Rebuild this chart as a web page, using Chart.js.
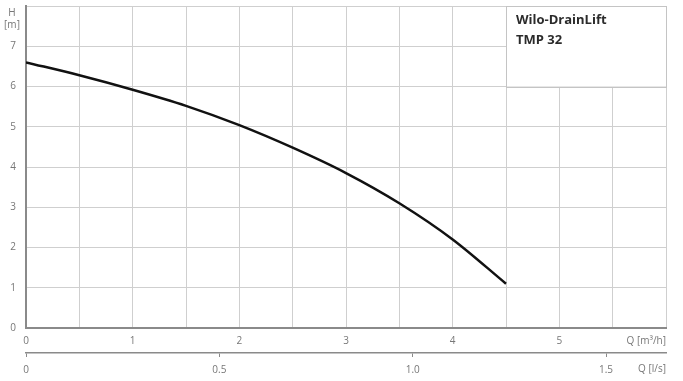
<!DOCTYPE html>
<html><head><meta charset="utf-8">
<script src="https://cdn.jsdelivr.net/npm/chart.js@4/dist/chart.umd.min.js"></script>
<style>html,body{margin:0;padding:0;background:#fff}#w{width:683px;height:381px}</style>
</head><body><div id="w"><canvas id="c"></canvas></div>
<script>
// Data
const flowM3h = [0, 0.5, 1, 1.5, 2, 2.5, 3, 3.5, 4, 4.5];
const headM   = [6.6, 6.28, 5.92, 5.52, 5.04, 4.48, 3.85, 3.1, 2.2, 1.1];
const xTickLabels = ['0','1','2','3','4','5'];
const lsTickValues = [0, 0.5, 1.0, 1.5];
const lsTickLabels = ['0','0.5','1.0','1.5'];
const yTickLabels = ['0','1','2','3','4','5','6','7'];
const title1 = 'Wilo-DrainLift';
const title2 = 'TMP 32';
const xUnit = 'Q [m³/h]';
const lsUnit = 'Q [l/s]';
const yUnit1 = 'H';
const yUnit2 = '[m]';

const FONT = '"Open Sans", sans-serif';
const TC = '#777';

const overlay = {
  id: 'overlay',
  beforeDatasetsDraw(chart) {
    const {ctx, scales: {x, y}} = chart;
    const l = x.getPixelForValue(4.5), r = x.getPixelForValue(6);
    const t = y.getPixelForValue(8), b = y.getPixelForValue(6);
    ctx.save();
    ctx.fillStyle = '#fff';
    ctx.fillRect(l, t, r - l, b - t);
    ctx.strokeStyle = '#c4c4c4';
    ctx.lineWidth = 1;
    ctx.strokeRect(Math.round(l) + 0.5, Math.round(t) + 0.5, Math.round(r - l), Math.round(b - t));
    ctx.fillStyle = '#2b2b2b';
    ctx.font = '700 13px ' + FONT;
    ctx.textBaseline = 'middle';
    ctx.textAlign = 'left';
    ctx.fillText(title1, l + 10, t + 14);
    ctx.fillText(title2, l + 10, t + 34);
    ctx.restore();
  },
  afterDraw(chart) {
    const {ctx, scales: {x}} = chart;
    ctx.save();
    ctx.fillStyle = TC;
    ctx.font = '10px ' + FONT;
    ctx.textBaseline = 'middle';
    ctx.textAlign = 'center';
    ctx.fillText(yUnit1, 12, 13);
    ctx.fillText(yUnit2, 12, 25);
    ctx.textAlign = 'right';
    ctx.fillText(xUnit, x.right, 341);
    ctx.fillText(lsUnit, x.right, 369);
    ctx.restore();
  }
};

function noPad(s) { s.paddingTop = 0; s.paddingBottom = 0; s.paddingLeft = 0; s.paddingRight = 0; }

new Chart(document.getElementById('c'), {
  type: 'line',
  data: {
    datasets: [{
      data: flowM3h.map((q, i) => ({x: q, y: headM[i]})),
      borderColor: '#111',
      borderWidth: 2.5,
      pointRadius: 0,
      cubicInterpolationMode: 'monotone',
      fill: false
    }]
  },
  options: {
    responsive: true,
    maintainAspectRatio: false,
    animation: false,
    layout: {padding: {top: 6, right: 17, bottom: 0, left: 0}},
    plugins: {legend: {display: false}, tooltip: {enabled: false}},
    scales: {
      x: {
        type: 'linear', position: 'bottom', min: 0, max: 6,
        afterFit(s) { s.height = 25; noPad(s); },
        grid: {color: '#cfcfcf', lineWidth: 1, drawTicks: false},
        border: {color: '#8a8a8a', width: 2},
        ticks: {
          stepSize: 0.5, padding: 7, color: TC, font: {family: FONT, size: 10},
          maxRotation: 0, autoSkip: false,
          callback: (v) => (Number.isInteger(v) && v < 6) ? xTickLabels[v] : ''
        }
      },
      x2: {
        type: 'linear', position: 'bottom', min: 0, max: 1.655,
        afterFit(s) { s.height = 28; noPad(s); },
        afterBuildTicks(s) { s.ticks = lsTickValues.map(v => ({value: v})); },
        grid: {drawOnChartArea: false, color: '#8a8a8a', tickLength: 4},
        border: {color: '#8a8a8a', width: 1.5},
        ticks: {
          padding: 7, color: TC, font: {family: FONT, size: 10},
          maxRotation: 0, autoSkip: false,
          callback: (v) => { const i = lsTickValues.indexOf(v); return i >= 0 ? lsTickLabels[i] : ''; }
        }
      },
      y: {
        type: 'linear', min: 0, max: 8,
        afterFit(s) { s.width = 26; noPad(s); },
        grid: {color: '#cfcfcf', lineWidth: 1, drawTicks: false},
        border: {color: '#8a8a8a', width: 2},
        ticks: {
          stepSize: 1, padding: 10, color: TC, font: {family: FONT, size: 10},
          callback: (v) => v < 8 ? yTickLabels[v] : ''
        }
      }
    }
  },
  plugins: [overlay]
});
</script>
</body></html>
